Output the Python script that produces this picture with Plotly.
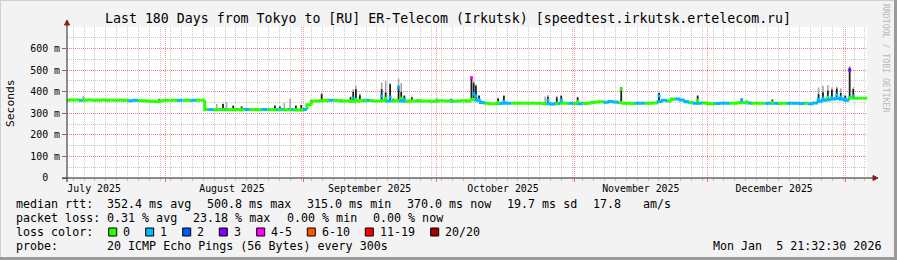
import plotly.graph_objects as go
from datetime import datetime, timedelta

# ---------------- data ----------------
START = datetime(2025, 7, 9, 21, 32, 30)
END = datetime(2026, 1, 5, 21, 32, 30)

# daily median rtt (ms), day 0 .. 179
median_ms = (
    [361, 362, 362, 361, 361, 362, 360, 361, 362, 361, 361, 360, 361, 360, 358, 360,
     359, 358, 357, 356, 354, 358, 360, 360, 361, 360, 360, 361, 360, 361, 361]
    + [318, 317, 316, 318, 317, 316, 317, 318, 316, 317, 318, 317, 316, 317, 318, 317,
       316, 317, 316, 317, 316, 315, 318]
    + [340, 357]
    + [357, 358, 359, 360, 360, 358, 357, 357, 356, 357, 358, 360, 359, 357, 357, 358,
       357, 357, 358, 357, 356, 357, 357, 358, 357, 357, 356, 357, 358, 357, 357, 356,
       357, 358, 357]
    + [365, 360, 350, 347, 344, 344, 345, 346, 347, 347, 346, 347, 347, 346, 347, 346,
       345, 344, 343, 345, 346, 347, 346, 345, 344, 345, 346, 350, 352, 354, 351, 355,
       352, 350, 347, 346, 345, 347, 346, 347, 346, 348, 355, 360, 357, 365, 366, 362,
       353, 350, 347, 346, 348, 345, 344, 345, 346, 347, 346, 347, 349, 350, 348, 346,
       347, 346, 346, 347, 346, 345, 346, 346, 347, 346, 345, 346, 344, 348, 356, 360,
       363, 366, 368, 365, 360, 372, 370, 370, 370]
)

# days whose median had 1 lost ping (blue); all other days 0 loss
loss1_days = [3, 14, 15, 25, 28, 32, 35, 40, 44, 47, 48, 50, 53, 59, 67, 72, 75, 86,
              92, 93, 97, 98, 99, 108, 109, 110, 113, 115, 121, 122, 123, 128, 129,
              133, 134, 137, 138, 139, 141, 142, 146, 147, 148, 153, 157, 158, 159,
              162, 163, 164, 165, 167, 168, 169, 170, 171, 172, 173, 174, 175]

# smoke spikes: day offset, median at spike, dark smoke top, light smoke top, loss class
spike_day = [3.7, 20.7, 33.7, 35.1, 35.9, 37.4, 39.3, 46.8, 47.9, 48.9, 50.2, 51.5, 52.7,
             57.3, 58.7, 61.7, 63.8, 64.4, 65.0, 65.9, 67.1, 70.8, 71.7, 72.7, 73.4, 74.6,
             75.2, 75.9, 77.6, 79.2, 83.2, 86.4, 91.0, 91.5, 92.0, 92.7, 97.0, 98.3, 107.6,
             108.2, 110.2, 111.2, 114.9, 124.7, 133.2, 136.1, 141.9, 151.8, 153.0, 158.7,
             169.1, 170.1, 171.2, 172.1, 173.2, 174.1, 175.1, 176.1, 176.9]
spike_median = [361, 356, 317, 317, 318, 317, 316, 317, 317, 317, 317, 316, 316,
                358, 358, 358, 357, 370, 365, 360, 358, 380, 370, 375, 358, 420,
                370, 365, 358, 357, 357, 357, 465, 390, 380, 362, 350, 355, 345,
                360, 346, 360, 355, 412, 380, 365, 360, 360, 350, 350,
                365, 370, 375, 372, 385, 375, 365, 500, 380]
spike_dark = [361, 366, 317, 343, 318, 335, 331, 335, 331, 317, 320, 335, 338,
              389, 358, 358, 374, 400, 412, 384, 358, 412, 397, 435, 366, 428,
              400, 381, 374, 357, 357, 366, 466, 440, 428, 381, 369, 381, 345,
              377, 374, 381, 374, 420, 394, 369, 381, 369, 358, 363,
              389, 397, 405, 409, 415, 394, 381, 512, 412]
spike_top = [381, 368, 343, 345, 351, 337, 333, 337, 333, 347, 369, 337, 340,
             394, 369, 366, 378, 412, 428, 390, 366, 443, 451, 440, 370, 461,
             440, 385, 378, 366, 374, 368, 471, 450, 432, 385, 372, 385, 378,
             385, 381, 385, 377, 422, 396, 372, 385, 371, 360, 365,
             420, 428, 430, 420, 424, 415, 385, 520, 420]
spike_loss = [0, 0, 0, 0, 0, 0, 0, 0, 0, 0, 0, 0, 0,
              0, 0, 0, 0, 1, 0, 0, 0, 1, 0, 1, 0, 1,
              0, 1, 0, 0, 0, 0, 4, 1, 1, 1, 0, 1, 0,
              1, 0, 1, 0, 0, 1, 0, 0, 1, 0, 0,
              1, 1, 0, 1, 1, 1, 1, 3, 1]

loss_labels = ["0", "1", "2", "3", "4-5", "6-10", "11-19", "20/20"]
loss_colors = ["#26ff00", "#00b8ff", "#0059ff", "#7e00ff", "#ff00ff", "#ff5500", "#ff0000", "#a10000"]

month_starts = [datetime(2025, 8, 1), datetime(2025, 9, 1), datetime(2025, 10, 1),
                datetime(2025, 11, 1), datetime(2025, 12, 1), datetime(2026, 1, 1)]
month_label_dates = [datetime(2025, 7, 16), datetime(2025, 8, 16), datetime(2025, 9, 16),
                     datetime(2025, 10, 16), datetime(2025, 11, 16), datetime(2025, 12, 16)]
month_labels = ["July 2025", "August 2025", "September 2025", "October 2025",
                "November 2025", "December 2025"]

y_tick_vals = [0, 100, 200, 300, 400, 500, 600]
y_tick_text = ["0&nbsp;&nbsp;", "100 m", "200 m", "300 m", "400 m", "500 m", "600 m"]

title_text = "Last 180 Days from Tokyo to [RU] ER-Telecom (Irkutsk) [speedtest.irkutsk.ertelecom.ru]"
legend_rtt = [("median rtt:", 16), ("352.4 ms avg", 107.3), ("500.8 ms max", 207.3),
              ("315.0 ms min", 306.7), ("370.0 ms now", 407.3), ("19.7 ms sd", 507.3),
              ("17.8", 593.3), ("am/s", 642.7)]
legend_loss = [("packet loss:", 16), ("0.31 % avg", 107.3), ("23.18 % max", 193.3),
               ("0.00 % min", 286.7), ("0.00 % now", 372.7)]
probe_text = [("probe:", 16), ("20 ICMP Echo Pings (56 Bytes) every 300s", 107.3)]
stamp_text = "Mon Jan&nbsp;&nbsp;5 21:32:30 2026"

# ---------------- layout geometry ----------------
W, H = 897, 260
L, R, T, B = 67, 30, 27, 82
PW = W - L - R
PH = H - T - B
MONO = "DejaVu Sans Mono"


def px(xp):
    return (xp - L) / PW


def py(yp):
    return (H - B - yp) / PH


def tday(d):
    return START + timedelta(days=d)


loss_of_day = [1 if d in loss1_days else 0 for d in range(len(median_ms))]

fig = go.Figure()

# smoke (dark and light parts)
dx, dy, lx, ly = [], [], [], []
for d, dk, tp in zip(spike_day, spike_dark, spike_top):
    base = median_ms[int(d)]
    t = tday(d)
    if dk > base:
        dx += [t, t, None]
        dy += [base, dk, None]
    lx += [t, t, None]
    ly += [max(dk, base), tp, None]
fig.add_trace(go.Scatter(x=lx, y=ly, mode="lines", line=dict(color="#a8a8a8", width=1.6),
                         hoverinfo="skip"))
fig.add_trace(go.Scatter(x=dx, y=dy, mode="lines", line=dict(color="#1e1e1e", width=1.8),
                         hoverinfo="skip"))

# median line, coloured by loss
for c in sorted(set(loss_of_day)):
    xs, ys = [], []
    for d, v in enumerate(median_ms):
        if loss_of_day[d] != c:
            continue
        prev = median_ms[d - 1] if d > 0 else v
        xs += [tday(d), tday(d), tday(d + 1), None]
        ys += [prev, v, v, None]
    fig.add_trace(go.Scatter(x=xs, y=ys, mode="lines",
                             line=dict(color=loss_colors[c], width=3), hoverinfo="skip"))

# median at spikes
fig.add_trace(go.Scatter(x=[tday(d) for d in spike_day], y=spike_median, mode="markers",
                         marker=dict(symbol="square", size=3,
                                     color=[loss_colors[c] for c in spike_loss],
                                     line=dict(width=0)),
                         hoverinfo="skip"))

# dummy trace for the label axis
fig.add_trace(go.Scatter(x=[START, END], y=[None, None], xaxis="x2", mode="markers",
                         hoverinfo="skip"))

fig.update_layout(
    width=W, height=H, margin=dict(l=L, r=R, t=T, b=B, pad=0),
    paper_bgcolor="#f3f3f3", plot_bgcolor="#ffffff", showlegend=False,
    font=dict(family=MONO, size=10, color="#000000"),
    xaxis=dict(type="date", range=[START, END], tickmode="array", tickvals=month_starts,
               ticktext=[""] * len(month_starts), showgrid=True,
               gridcolor="rgba(255,70,70,0.55)", griddash="1px,1px", gridwidth=1,
               ticks="outside", ticklen=3, tickcolor="#ff6060", zeroline=False,
               showline=False, fixedrange=True,
               minor=dict(dtick=2.44 * 86400000, tick0=tday(52.65), showgrid=True,
                          gridcolor="rgba(140,140,140,0.45)", griddash="1px,1px",
                          ticks="outside", ticklen=2, tickcolor="#c0c0c0")),
    xaxis2=dict(type="date", range=[START, END], overlaying="x", anchor="y", side="bottom",
                tickmode="array", tickvals=month_label_dates, ticktext=month_labels,
                showgrid=False, ticks="", zeroline=False, showline=False,
                tickfont=dict(family=MONO, size=9.9, color="#000"), ticklabelstandoff=3),
    yaxis=dict(range=[0, 700], tickmode="array", tickvals=y_tick_vals, ticktext=y_tick_text,
               showgrid=True, gridcolor="rgba(255,70,70,0.55)", griddash="1px,1px",
               ticks="outside", ticklen=4, tickcolor="#707070", zeroline=False,
               showline=False, tickfont=dict(family=MONO, size=9.9, color="#000"),
               minor=dict(dtick=50, tick0=0, showgrid=True,
                          gridcolor="rgba(140,140,140,0.45)", griddash="1px,1px")),
)

shapes = []
# axis lines and arrows
shapes.append(dict(type="line", xref="paper", yref="paper", x0=px(67), x1=px(67),
                   y0=py(182), y1=py(25), line=dict(color="#202020", width=1)))
shapes.append(dict(type="line", xref="paper", yref="paper", x0=px(62), x1=px(873),
                   y0=py(178), y1=py(178), line=dict(color="#202020", width=1)))
shapes.append(dict(type="path", xref="paper", yref="paper", fillcolor="#8b1a1a",
                   line=dict(color="#8b1a1a", width=1),
                   path=f"M {px(64.5)} {py(25)} L {px(69.5)} {py(25)} L {px(67)} {py(20)} Z"))
shapes.append(dict(type="path", xref="paper", yref="paper", fillcolor="#8b1a1a",
                   line=dict(color="#8b1a1a", width=1),
                   path=f"M {px(873)} {py(175.5)} L {px(873)} {py(180.5)} L {px(878)} {py(178)} Z"))
# frame
shapes.append(dict(type="line", xref="paper", yref="paper", x0=px(0), x1=px(897),
                   y0=py(0.5), y1=py(0.5), line=dict(color="#d0d0d0", width=1)))
shapes.append(dict(type="line", xref="paper", yref="paper", x0=px(0.5), x1=px(0.5),
                   y0=py(0), y1=py(260), line=dict(color="#d0d0d0", width=1)))
shapes.append(dict(type="line", xref="paper", yref="paper", x0=px(0), x1=px(897),
                   y0=py(258.5), y1=py(258.5), line=dict(color="#9a9a9a", width=3)))
shapes.append(dict(type="line", xref="paper", yref="paper", x0=px(895.5), x1=px(895.5),
                   y0=py(0), y1=py(260), line=dict(color="#9a9a9a", width=3)))

annotations = []


def text(s, x, y, size=11.66, color="#000", **kw):
    annotations.append(dict(text=s, x=px(x), y=py(y), xref="paper", yref="paper",
                            xanchor=kw.pop("xanchor", "left"), yanchor="middle",
                            showarrow=False, borderpad=0, borderwidth=0,
                            font=dict(family=MONO, size=size, color=color), **kw))


text(title_text, 448, 19, size=13.25, xanchor="center")
text("Seconds", 10, 103, size=11.3, xanchor="center", textangle=-90)
text("RRDTOOL / TOBI OETIKER", 886, 58, size=8.2, color="#b8b8b8", xanchor="center",
     textangle=90)
for s, x in legend_rtt:
    text(s, x, 204.3)
for s, x in legend_loss:
    text(s, x, 218.3)
text("loss color:", 16, 232.3)
box_x = [108.7, 145.7, 182.7, 219.3, 256.7, 307.3, 365.3, 430.7]
for lbl, col, bx in zip(loss_labels, loss_colors, box_x):
    shapes.append(dict(type="rect", xref="paper", yref="paper", x0=px(bx), x1=px(bx + 8),
                       y0=py(236), y1=py(228), fillcolor=col,
                       line=dict(color="#000", width=1)))
    text(lbl, bx + 14.6, 232.3)
for s, x in probe_text:
    text(s, x, 246)
text(stamp_text, 880.5, 246, xanchor="right")

fig.update_layout(shapes=shapes, annotations=annotations)
fig.write_html("out.html")
